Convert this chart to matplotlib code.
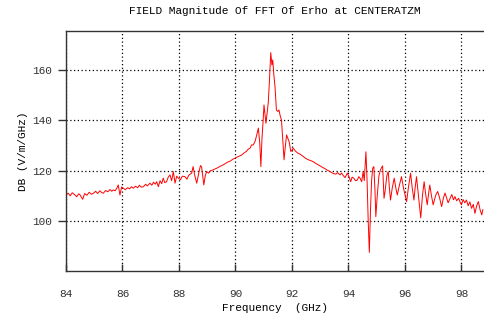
import matplotlib

matplotlib.use("Agg")
import matplotlib.pyplot as plt

# frequency (GHz) and magnitude (dB)
freq_ghz = [
    84.00, 84.08, 84.15, 84.22, 84.30, 84.38, 84.45, 84.50, 84.59, 84.66,
    84.74, 84.82, 84.90, 84.97, 85.05, 85.12, 85.20, 85.26, 85.32, 85.40,
    85.48, 85.56, 85.62, 85.67, 85.74, 85.80, 85.85, 85.91, 85.97, 86.03,
    86.10, 86.18, 86.25, 86.32, 86.38, 86.46, 86.54, 86.60, 86.67, 86.74,
    86.82, 86.88, 86.97, 87.04, 87.10, 87.16, 87.21, 87.27, 87.33, 87.39,
    87.44, 87.50, 87.56, 87.62, 87.68, 87.74, 87.80, 87.86, 87.92, 87.98,
    88.05, 88.12, 88.21, 88.28, 88.35, 88.45, 88.50, 88.56, 88.63, 88.70,
    88.76, 88.80, 88.84, 88.88, 88.93, 88.98, 89.05, 89.12, 89.21, 89.30,
    89.38, 89.47, 89.57, 89.65, 89.73, 89.82, 89.90, 89.98, 90.06, 90.14,
    90.22, 90.30, 90.38, 90.45, 90.52, 90.57, 90.63, 90.69, 90.75, 90.81,
    90.86, 90.90, 90.94, 90.98, 91.01, 91.05, 91.08, 91.12, 91.16, 91.20,
    91.25, 91.29, 91.32, 91.36, 91.40, 91.45, 91.50, 91.54, 91.58, 91.63,
    91.67, 91.72, 91.76, 91.81, 91.85, 91.90, 91.96, 92.05, 92.12, 92.20,
    92.28, 92.38, 92.47, 92.56, 92.65, 92.75, 92.85, 92.95, 93.05, 93.15,
    93.25, 93.35, 93.45, 93.55, 93.62, 93.70, 93.76, 93.82, 93.88, 93.96,
    94.02, 94.08, 94.13, 94.19, 94.25, 94.31, 94.37, 94.41, 94.47, 94.52,
    94.56, 94.60, 94.62, 94.66, 94.70, 94.74, 94.78, 94.82, 94.86, 94.90,
    94.94, 94.97, 95.02, 95.08, 95.14, 95.21, 95.26, 95.30, 95.36, 95.41,
    95.45, 95.49, 95.55, 95.62, 95.68, 95.73, 95.80, 95.88, 95.95, 96.01,
    96.06, 96.12, 96.20, 96.26, 96.32, 96.36, 96.41, 96.46, 96.51, 96.56,
    96.62, 96.68, 96.73, 96.79, 96.84, 96.88, 96.94, 97.00, 97.06, 97.10,
    97.16, 97.22, 97.30, 97.36, 97.42, 97.48, 97.53, 97.60, 97.66, 97.72,
    97.77, 97.83, 97.90, 97.95, 98.00, 98.06, 98.12, 98.18, 98.24, 98.30,
    98.36, 98.42, 98.48, 98.54, 98.60, 98.66, 98.72, 98.76,
]
magnitude_db = [
    110.3, 111.0, 110.0, 111.2, 110.5, 109.6, 110.8, 110.3, 108.6, 110.9,
    110.2, 111.4, 110.6, 111.0, 111.8, 110.9, 112.0, 111.3, 111.0, 112.1,
    111.6, 112.5, 111.8, 112.3, 112.0, 113.0, 114.3, 110.3, 113.5, 113.0,
    112.4, 113.2, 112.8, 113.6, 113.0, 113.8, 113.2, 114.2, 113.4, 113.6,
    114.6, 113.9, 115.0, 114.2, 115.4, 114.6, 115.6, 113.6, 116.0, 114.8,
    117.0, 115.2, 115.6, 117.4, 118.3, 116.0, 119.6, 115.0, 117.8, 117.0,
    116.4, 117.8, 117.6, 116.6, 118.2, 119.0, 121.6, 118.0, 115.0, 119.0,
    122.0, 121.6, 118.0, 114.3, 118.0, 119.6, 119.0, 120.0, 120.3, 120.8,
    121.2, 121.8, 122.3, 122.9, 123.4, 123.8, 124.5, 124.9, 125.4, 125.8,
    126.2, 127.0, 127.6, 128.5, 129.0, 130.2, 130.2, 131.5, 134.0, 136.9,
    131.0, 121.6, 133.0, 140.0, 146.1, 142.0, 138.8, 143.0, 146.8, 155.0,
    166.9, 162.0, 164.0, 158.0, 153.4, 144.1, 143.5, 144.1, 142.0, 140.1,
    133.0, 124.3, 129.0, 134.2, 133.0, 131.5, 127.6, 128.9, 127.8, 127.0,
    126.6, 125.8, 125.0, 124.4, 124.0, 123.6, 122.8, 122.2, 121.5, 120.9,
    120.2, 119.6, 118.9, 118.6, 119.2, 118.3, 119.0, 118.0, 117.2, 119.0,
    117.6, 115.6, 117.4, 117.0, 116.0, 116.2, 117.6, 117.0, 115.6, 119.6,
    116.0, 124.0, 127.5, 116.0, 100.0, 87.5, 104.0, 116.0, 121.0, 121.6,
    112.0, 101.7, 110.0, 118.0, 120.5, 121.9, 109.0, 112.0, 118.0, 119.6,
    113.0, 108.3, 113.0, 117.0, 113.0, 110.3, 114.0, 117.6, 113.0, 110.0,
    107.7, 113.0, 119.0, 113.0, 108.3, 113.0, 117.6, 112.0, 106.0, 101.2,
    110.0, 115.6, 111.0, 106.4, 111.0, 114.3, 110.0, 106.4, 109.0, 110.5,
    111.7, 109.5, 105.7, 109.0, 111.1, 109.0, 107.2, 109.0, 110.5, 108.4,
    109.7, 108.0, 109.0, 107.6, 106.4, 108.5, 107.2, 108.3, 106.0, 107.6,
    105.0, 106.6, 103.0, 106.0, 107.7, 104.5, 102.4, 104.5,
]
x_ticks = [84, 86, 88, 90, 92, 94, 96, 98]
y_ticks = [100, 120, 140, 160]

plt.rcParams["font.family"] = ["Liberation Mono", "DejaVu Sans Mono"]
plt.rcParams["font.size"] = 8

fig = plt.figure(figsize=(4.84, 3.13), dpi=100)
ax = fig.add_axes([66 / 484, 1 - 271 / 313, 1 - 66 / 484, 240 / 313])

ax.plot(freq_ghz, magnitude_db, color="#ff0000", linewidth=0.7)

ax.set_xlim(84, 98.8)
ax.set_ylim(80.1, 175.5)
ax.set_xticks(x_ticks)
ax.set_yticks(y_ticks)
ax.grid(True, color="black", linestyle=(0, (1, 2)), linewidth=0.9)
ax.tick_params(axis="x", direction="in", length=5, width=1, pad=13, colors="#333333")
ax.tick_params(axis="y", direction="out", length=6, width=1, pad=4, colors="#333333")
for side in ("left", "bottom", "top"):
    ax.spines[side].set_color("#333333")
    ax.spines[side].set_linewidth(1.0)
ax.spines["right"].set_visible(False)

ax.set_xlabel("Frequency  (GHz)", labelpad=3)
ax.set_ylabel("DB (V/m/GHz)", labelpad=3)
ax.set_title("FIELD Magnitude Of FFT Of Erho at CENTERATZM", fontsize=8, pad=12)

fig.savefig("out.png")
plt.close(fig)
